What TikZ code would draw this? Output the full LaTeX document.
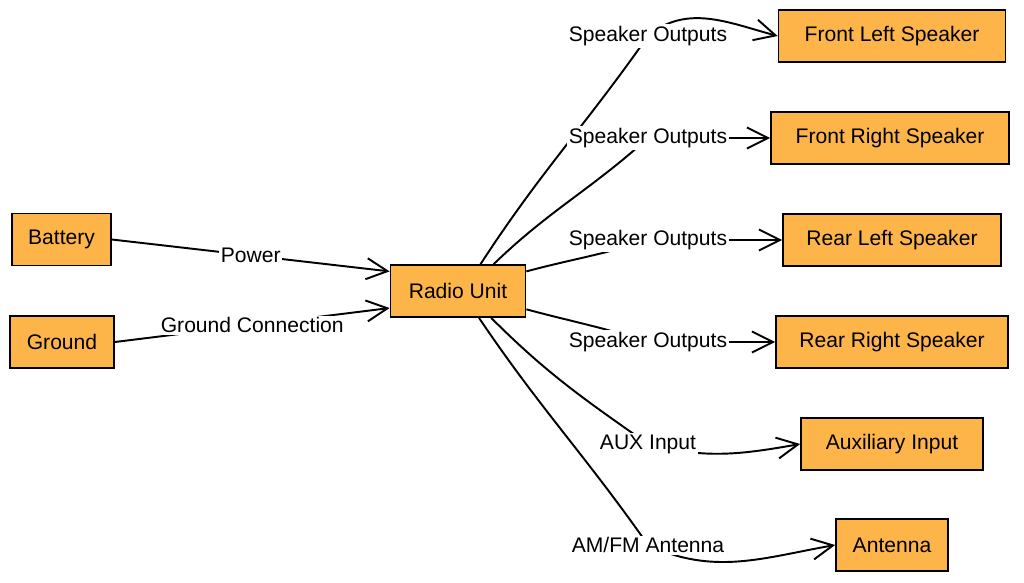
\documentclass[tikz,border=0pt]{standalone}
\usepackage{fontspec}
\setmainfont{Liberation Sans}
\usetikzlibrary{arrows.meta}
\definecolor{boxorange}{RGB}{253,181,74}

\begin{document}
\begin{tikzpicture}[x=0.02cm,y=0.02cm,
    unit/.style={draw,rectangle,fill=boxorange,line width=1pt,minimum height=1.04cm,font=\large},
    wire/.style={line width=1.1pt,-{Straight Barb[length=12pt,width=12pt]}},
    lbl/.style={fill=white,inner sep=1pt,font=\large}]
      \useasboundingbox (0,0) rectangle (1024,-582);

      % power side
      \node[unit,minimum width=1.98cm] (battery) at (61.5,-239.5) {Battery};
      \node[unit,minimum width=2.08cm] (ground) at (62,-342) {Ground};
      \node[unit,minimum width=2.7cm] (radio) at (458,-291) {Radio Unit};

      % outputs and inputs
      \node[unit,minimum width=4.54cm] (fl) at (892,-36) {Front Left Speaker};
      \node[unit,minimum width=4.76cm] (fr) at (890,-138) {Front Right Speaker};
      \node[unit,minimum width=4.36cm] (rl) at (892,-240) {Rear Left Speaker};
      \node[unit,minimum width=4.64cm] (rr) at (892,-342) {Rear Right Speaker};
      \node[unit,minimum width=3.64cm] (aux) at (892,-444) {Auxiliary Input};
      \node[unit,minimum width=2.24cm] (ant) at (892,-545) {Antenna};

      \draw[wire] (battery.east) -- (radio.164) node[lbl,midway] (pwr) {Power};
      \draw[wire] (ground.east) -- (radio.194) node[lbl,midway] (gnd) {Ground Connection};

      \draw[wire] (radio.50) to[out=57,in=-125] (648,-36) node[lbl] (so1) {Speaker Outputs}
        to[out=40,in=165] (fl.west);
      \draw[wire] (radio.37) to[out=44,in=-138] (648,-138) node[lbl] (so2) {Speaker Outputs}
        -- (fr.west);
      \draw[wire] (radio.16) to[out=15,in=-162] (648,-240) node[lbl] (so3) {Speaker Outputs}
        -- (rl.west);
      \draw[wire] (radio.-15) to[out=-15,in=162] (648,-342) node[lbl] (so4) {Speaker Outputs}
        -- (rr.west);
      \draw[wire] (radio.-39) to[out=-45,in=145] (648,-444) node[lbl] (auxin) {AUX Input}
        to[out=-15,in=190] (aux.west);
      \draw[wire] (radio.-52) to[out=-56,in=125] (648,-545) node[lbl] (amfm) {AM/FM Antenna}
        to[out=-25,in=190] (ant.west);
\end{tikzpicture}
\end{document}
